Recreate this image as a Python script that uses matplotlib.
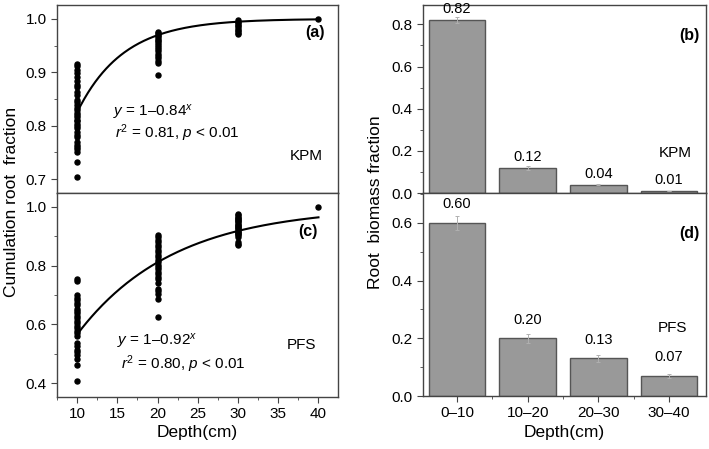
import matplotlib
matplotlib.use("Agg")
import matplotlib.pyplot as plt
import numpy as np
from matplotlib.ticker import MultipleLocator

plt.rcParams['font.family'] = ['Liberation Sans', 'DejaVu Sans']
plt.rcParams['mathtext.fontset'] = 'custom'
plt.rcParams['mathtext.rm'] = 'Liberation Sans'
plt.rcParams['mathtext.it'] = 'Liberation Sans:italic'
plt.rcParams['axes.unicode_minus'] = False

# ---- data: panel (a) KPM cumulative root fraction ----
kpm_d10 = [0.916, 0.911, 0.904, 0.898, 0.891, 0.884, 0.876, 0.872, 0.864, 0.858, 0.848,
           0.845, 0.839, 0.834, 0.829, 0.823, 0.820, 0.816, 0.811, 0.808, 0.803, 0.799,
           0.795, 0.789, 0.783, 0.778, 0.770, 0.764, 0.761, 0.756, 0.751, 0.733, 0.704]
kpm_d20 = [0.976, 0.973, 0.970, 0.967, 0.964, 0.961, 0.958, 0.955, 0.951, 0.947, 0.943,
           0.939, 0.935, 0.930, 0.926, 0.921, 0.917, 0.895]
kpm_d30 = [0.998, 0.995, 0.992, 0.989, 0.986, 0.983, 0.980, 0.977, 0.974, 0.971]
kpm_d40 = [1.0]
kpm_beta = 0.84

# ---- data: panel (c) PFS cumulative root fraction ----
pfs_d10 = [0.755, 0.749, 0.699, 0.691, 0.683, 0.674, 0.665, 0.654, 0.646, 0.638, 0.629,
           0.620, 0.612, 0.604, 0.596, 0.587, 0.579, 0.571, 0.562, 0.537, 0.528, 0.513,
           0.506, 0.497, 0.483, 0.461, 0.408]
pfs_d20 = [0.904, 0.897, 0.888, 0.879, 0.871, 0.863, 0.854, 0.845, 0.837, 0.829, 0.820,
           0.811, 0.803, 0.796, 0.787, 0.778, 0.770, 0.762, 0.753, 0.742, 0.722, 0.713,
           0.702, 0.688, 0.626]
pfs_d30 = [0.975, 0.971, 0.967, 0.963, 0.959, 0.955, 0.951, 0.947, 0.943, 0.939, 0.935,
           0.931, 0.927, 0.923, 0.919, 0.915, 0.911, 0.907, 0.903, 0.899, 0.880, 0.875, 0.870]
pfs_d40 = [1.0]
pfs_beta = 0.92

# ---- data: bar panels ----
layers = ['0\u201310', '10\u201320', '20\u201330', '30\u201340']
kpm_frac = [0.82, 0.12, 0.04, 0.01]
kpm_err = [0.015, 0.01, 0.003, 0.002]
pfs_frac = [0.60, 0.20, 0.13, 0.07]
pfs_err = [0.025, 0.015, 0.012, 0.006]
kpm_lbl = ['0.82', '0.12', '0.04', '0.01']
pfs_lbl = ['0.60', '0.20', '0.13', '0.07']

fig = plt.figure(figsize=(7.09, 4.49), dpi=100)
ax_a = fig.add_axes([0.0804, 0.570, 0.396, 0.419])
ax_c = fig.add_axes([0.0804, 0.116, 0.396, 0.454])
ax_b = fig.add_axes([0.5966, 0.570, 0.399, 0.419])
ax_d = fig.add_axes([0.5966, 0.118, 0.399, 0.452])

spine_col = '#444444'
TICK = 11

def style(ax):
    for s in ax.spines.values():
        s.set_color(spine_col)
        s.set_linewidth(1.0)
    ax.tick_params(which='both', direction='out', color=spine_col, labelsize=TICK)
    ax.tick_params(which='major', length=4)
    ax.tick_params(which='minor', length=2.5)

def scatter_panel(ax, groups, beta):
    depths = [10, 20, 30, 40]
    for d, vals in zip(depths, groups):
        ax.plot([d] * len(vals), vals, 'o', color='black', ms=3.6, mec='black', zorder=3)
    xs = np.linspace(10, 40, 200)
    ax.plot(xs, 1 - beta ** xs, color='black', lw=1.5, zorder=2)
    ax.set_xlim(7.5, 42.4)
    ax.xaxis.set_major_locator(MultipleLocator(5))
    ax.xaxis.set_minor_locator(MultipleLocator(2.5))
    style(ax)

scatter_panel(ax_a, [kpm_d10, kpm_d20, kpm_d30, kpm_d40], kpm_beta)
ax_a.set_ylim(0.674, 1.026)
ax_a.yaxis.set_minor_locator(MultipleLocator(0.05))
ax_a.set_yticks([0.7, 0.8, 0.9, 1.0])
ax_a.set_yticklabels(['0.7', '0.8', '0.9', '1.0'])
ax_a.tick_params(axis='x', which='both', bottom=False, labelbottom=False)

scatter_panel(ax_c, [pfs_d10, pfs_d20, pfs_d30, pfs_d40], pfs_beta)
ax_c.set_ylim(0.353, 1.047)
ax_c.set_yticks([0.4, 0.6, 0.8, 1.0])
ax_c.set_yticklabels(['0.4', '0.6', '0.8', '1.0'])
ax_c.yaxis.set_minor_locator(MultipleLocator(0.1))
ax_c.set_xlabel('Depth(cm)', fontsize=12.5, labelpad=3)

FS = 11
DASH = '\u2013'
ax_a.text(0.199, 0.426, r'$\mathit{y}$ = 1' + DASH + r'0.84$^{\mathit{x}}$', transform=ax_a.transAxes,
          fontsize=FS, va='center', ha='left')
ax_a.text(0.206, 0.319, r'$\mathit{r}^2$ = 0.81, $\mathit{p}$ < 0.01', transform=ax_a.transAxes,
          fontsize=FS, va='center', ha='left')
ax_a.text(0.886, 0.197, 'KPM', transform=ax_a.transAxes, fontsize=FS, va='center', ha='center')
ax_a.text(0.954, 0.851, '(a)', transform=ax_a.transAxes, fontsize=11.5, fontweight='bold',
          va='center', ha='right')

ax_c.text(0.213, 0.271, r'$\mathit{y}$ = 1' + DASH + r'0.92$^{\mathit{x}}$', transform=ax_c.transAxes,
          fontsize=FS, va='center', ha='left')
ax_c.text(0.228, 0.162, r'$\mathit{r}^2$ = 0.80, $\mathit{p}$ < 0.01', transform=ax_c.transAxes,
          fontsize=FS, va='center', ha='left')
ax_c.text(0.872, 0.255, 'PFS', transform=ax_c.transAxes, fontsize=FS, va='center', ha='center')
ax_c.text(0.93, 0.81, '(c)', transform=ax_c.transAxes, fontsize=11.5, fontweight='bold',
          va='center', ha='right')

def bar_panel(ax, vals, errs, lbls, off):
    x = np.arange(len(vals))
    ax.bar(x, vals, width=0.8, color='#999999', edgecolor='#555555', linewidth=1.0, zorder=2)
    ax.errorbar(x, vals, yerr=errs, fmt='none', ecolor='#b0b0b0', elinewidth=0.7,
                capsize=1.5, capthick=0.7, zorder=3)
    for xi, v, lab in zip(x, vals, lbls):
        ax.text(xi, v + off, lab, ha='center', va='center', fontsize=10.5)
    ax.set_xlim(-0.48, 3.52)
    ax.set_xticks(x)
    ax.set_xticks(x[:-1] + 0.5, minor=True)
    style(ax)

bar_panel(ax_b, kpm_frac, kpm_err, kpm_lbl, 0.052)
ax_b.set_ylim(0, 0.892)
ax_b.set_yticks([0.0, 0.2, 0.4, 0.6, 0.8])
ax_b.set_yticklabels(['0.0', '0.2', '0.4', '0.6', '0.8'])
ax_b.yaxis.set_minor_locator(MultipleLocator(0.1))
ax_b.tick_params(axis='x', which='both', bottom=False, labelbottom=False)
ax_b.text(0.979, 0.835, '(b)', transform=ax_b.transAxes, fontsize=11.5, fontweight='bold',
          va='center', ha='right')
ax_b.text(0.89, 0.213, 'KPM', transform=ax_b.transAxes, fontsize=FS, va='center', ha='center')

bar_panel(ax_d, pfs_frac, pfs_err, pfs_lbl, 0.065)
ax_d.set_ylim(0, 0.703)
ax_d.set_yticks([0.0, 0.2, 0.4, 0.6])
ax_d.set_yticklabels(['0.0', '0.2', '0.4', '0.6'])
ax_d.yaxis.set_minor_locator(MultipleLocator(0.1))
ax_d.set_xticklabels(layers)
ax_d.set_xlabel('Depth(cm)', fontsize=12.5, labelpad=3)
ax_d.text(0.979, 0.803, '(d)', transform=ax_d.transAxes, fontsize=11.5, fontweight='bold',
          va='center', ha='right')
ax_d.text(0.883, 0.335, 'PFS', transform=ax_d.transAxes, fontsize=FS, va='center', ha='center')

fig.text(0.016, 0.55, 'Cumulation root  fraction', rotation=90, fontsize=12.5,
         ha='center', va='center')
fig.text(0.529, 0.55, 'Root  biomass fraction', rotation=90, fontsize=12.5,
         ha='center', va='center')

fig.savefig('out.png', dpi=100)
